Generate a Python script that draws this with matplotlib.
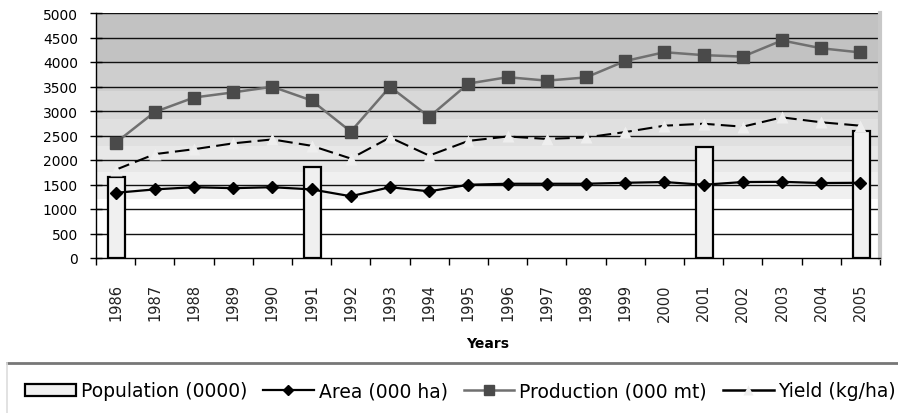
import numpy as np
import matplotlib.pyplot as plt
from matplotlib.lines import Line2D
from matplotlib.patches import Patch

years = [str(y) for y in range(1986, 2006)]
population = [1650, np.nan, np.nan, np.nan, np.nan, 1850, np.nan, np.nan, np.nan, np.nan,
              np.nan, np.nan, np.nan, np.nan, np.nan, 2270, np.nan, np.nan, np.nan, 2600]
area = [1330, 1400, 1445, 1425, 1445, 1400, 1260, 1445, 1360, 1495,
        1515, 1515, 1515, 1535, 1550, 1495, 1550, 1555, 1530, 1535]
production = [2350, 2980, 3275, 3380, 3495, 3215, 2580, 3495, 2880, 3560,
              3690, 3620, 3685, 4020, 4200, 4140, 4110, 4440, 4280, 4195]
yield_ = [1800, 2120, 2220, 2340, 2420, 2290, 2030, 2460, 2090, 2390,
          2480, 2430, 2460, 2570, 2700, 2740, 2680, 2870, 2770, 2700]

x = np.arange(len(years))

fig = plt.figure(figsize=(8.98, 4.14), dpi=100)
ax = fig.add_axes([96 / 898, 1 - 259 / 414, 784 / 898, 245 / 414])

# stepped grey background like the excel plot area
band_edges = [1200, 1750, 2280, 2840, 3400, 3970, 5000]
band_cols = ['#f0f0f0', '#e8e8e8', '#e0e0e0', '#d8d8d8', '#cecece', '#c2c2c2']
for lo, hi, c in zip(band_edges[:-1], band_edges[1:], band_cols):
    ax.axhspan(lo, hi, color=c, lw=0, zorder=0)

for v in range(500, 5001, 500):
    ax.axhline(v, color='#111111', lw=1, zorder=1)

pop = np.array(population, dtype=float)
has_pop = ~np.isnan(pop)
ax.bar(x[has_pop] + 0.03, pop[has_pop], width=0.43, color='#f0f0f0',
       edgecolor='black', linewidth=1.6, zorder=2)

ax.plot(x, yield_, color='black', lw=1.5, dashes=(7, 3), zorder=3)
ax.plot(x, yield_, ls='none', marker='^', ms=9, color='#eeeeee', mec='none', zorder=3.5)
ax.plot(x, area, color='black', lw=1.6, marker='D', ms=6.5, zorder=4)
ax.plot(x, production, color='#707070', lw=1.8, marker='s', ms=9,
        mfc='#4a4a4a', mec='#4a4a4a', zorder=4)

ax.set_xlim(-0.5, len(years) - 0.5)
ax.set_ylim(0, 5000)
ax.set_yticks(range(0, 5001, 500))
ax.tick_params(axis='y', direction='inout', length=8, width=1, pad=9, labelsize=10)
ax.set_xticks(x)
ax.set_xticklabels(years, rotation=90, fontsize=10.5, color='#222222')
ax.set_xticks(np.arange(-0.5, len(years), 1), minor=True)
ax.tick_params(axis='x', which='major', length=0, pad=18)
ax.tick_params(axis='x', which='minor', direction='out', length=5, width=1)

ax.spines['top'].set_visible(False)
ax.spines['right'].set_color('#c8c8c8')
ax.spines['right'].set_linewidth(3)
ax.spines['left'].set_linewidth(1)
ax.spines['bottom'].set_linewidth(1)

fig.text(488 / 898, 1 - 344 / 414, 'Years', ha='center', va='center',
         fontsize=10, fontweight='bold')

# legend box at the bottom (only top and left edges show)
fig.add_artist(Line2D([7 / 898, 1], [1 - 364 / 414] * 2, color='#777777', lw=2))
fig.add_artist(Line2D([7 / 898, 7 / 898], [1 - 364 / 414, 0], color='#dddddd', lw=1.2))

handles = [
    Patch(facecolor='#f0f0f0', edgecolor='black', linewidth=1.6),
    Line2D([], [], color='black', lw=1.6, marker='D', ms=5),
    Line2D([], [], color='#707070', lw=1.8, marker='s', ms=7, mfc='#4a4a4a', mec='#4a4a4a'),
    Line2D([], [], color='black', lw=1.8, marker='^', ms=7, mfc='#eeeeee', mec='none'),
]
labels = ['Population (0000)', 'Area (000 ha)', 'Production (000 mt)', 'Yield (kg/ha)']
fig.legend(handles, labels, loc='center left', bbox_to_anchor=(25 / 898, 1 - 392 / 414),
           ncol=4, frameon=False, fontsize=13.5, borderpad=0, borderaxespad=0,
           handlelength=2.7, handletextpad=0.27, columnspacing=0.85, handleheight=0.6)

fig.savefig('out.png', dpi=100)
